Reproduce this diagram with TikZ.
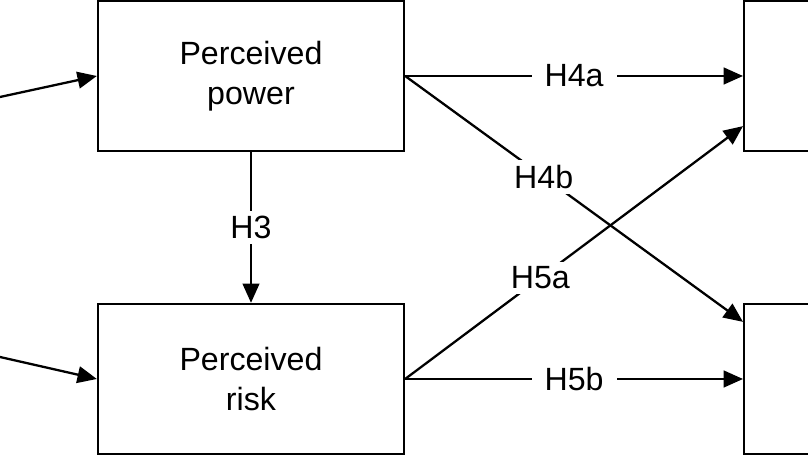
\documentclass[tikz,border=0pt]{standalone}
\usepackage{fontspec}
\setmainfont{Liberation Sans}
\usetikzlibrary{arrows.meta}
\begin{document}
\begin{tikzpicture}[
	box/.style={draw, line width=1.3pt, minimum width=6.12cm, minimum height=3cm, align=center, inner sep=0pt, font=\fontsize{18.3}{23}\selectfont},
	link/.style={line width=1.3pt, -{Triangle[length=11pt,width=9.5pt]}},
	hyp/.style={fill=white, inner xsep=0.26cm, inner ysep=0.1cm, font=\fontsize{18.3}{22}\selectfont}
	]
	% frame of the picture
	\clip (0,0) rectangle (16.16,9.1);
	
	% constructs
	\node[box] (power) at (5.02,7.58) {Perceived\\power};
	\node[box] (risk) at (5.02,1.52) {Perceived\\risk};
	\node[box, anchor=west] (outA) at (14.86,7.58) {};
	\node[box, anchor=west] (outB) at (14.86,1.52) {};
	
	% incoming paths from the left
	\coordinate (inA) at (0,7.16);
	\coordinate (inB) at (0,1.96);
	\draw[link] (inA) -- (power.west);
	\draw[link] (inB) -- (risk.west);
	
	% hypotheses
	\draw[link] (power.south) -- node[hyp] {H3} (risk.north);
	\draw[link] (power.east) -- node[hyp] {H4a} (outA.west);
	\draw[link] (power.east) -- node[hyp, pos=0.41] {H4b} ([yshift=-0.38cm]outB.north west);
	\draw[link] (risk.east) -- node[hyp, pos=0.4] {H5a} ([yshift=0.52cm]outA.south west);
	\draw[link] (risk.east) -- node[hyp] {H5b} (outB.west);
\end{tikzpicture}
\end{document}
